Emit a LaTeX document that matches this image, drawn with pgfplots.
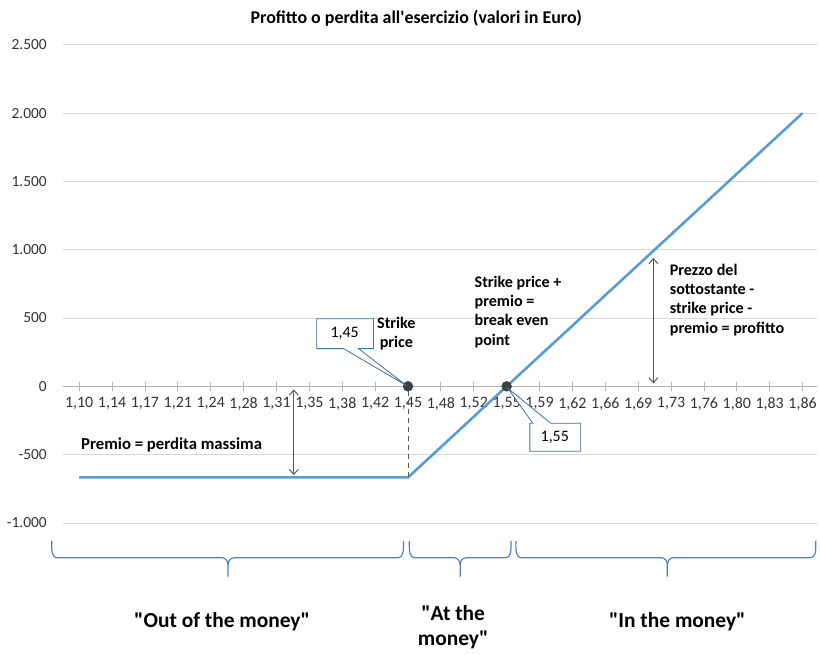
\documentclass[border=0pt]{standalone}
\usepackage{pgfplots}
\pgfplotsset{compat=1.18}
\usepackage{fontspec}
\setmainfont{Carlito}
\usetikzlibrary{arrows.meta}
\definecolor{lineblue}{RGB}{91,155,213}
\definecolor{braceblue}{RGB}{79,129,189}
\definecolor{callout}{RGB}{65,113,156}
\definecolor{darkmark}{RGB}{64,64,64}
\definecolor{arrowgray}{RGB}{89,89,89}
\begin{document}
\begin{tikzpicture}
\begin{scope}[x=1pt,y=-1pt]
\useasboundingbox (0,0) rectangle (820,657);
\end{scope}
\begin{axis}[
  at={(63pt,-525pt)}, anchor=south west,
  scale only axis, width=757pt, height=480pt,
  xmin=-0.5, xmax=22.43, ymin=-1000, ymax=2500,
  enlargelimits=false, clip=false,
  axis x line=middle, axis y line=left,
  axis line style={-},
  x axis line style={draw=gray!60, line width=0.8pt},
  y axis line style={draw=none},
  hide obscured x ticks=false, hide obscured y ticks=false,
  xtick={0,...,22},
  xticklabels={{1,10},{1,14},{1,17},{1,21},{1,24},{1,28},{1,31},{1,35},{1,38},{1,42},{1,45},{1,48},{1,52},{1,55},{1,59},{1,62},{1,66},{1,69},{1,73},{1,76},{1,80},{1,83},{1,86}},
  xtick style={draw=gray!60, line width=0.8pt},
  xtick align=center, major tick length=9pt,
  ytick={-1000,-500,0,500,1000,1500,2000,2500},
  ytick style={draw=none},
  ymajorgrids, major grid style={draw=gray!30, line width=0.8pt},
  /pgf/number format/.cd, 1000 sep={.}, assume math mode=true,
  /pgfplots/.cd,
  tick label style={text=black!80},
  xticklabel style={font=\fontsize{16}{19}\selectfont, yshift=-3pt},
  yticklabel style={font=\fontsize{15.5}{19}\selectfont, xshift=-8pt},
]
\addplot[lineblue, line width=2.6pt, line join=round] coordinates {
(0,-667) (1,-667) (2,-667) (3,-667) (4,-667) (5,-667) (6,-667) (7,-667)
(8,-667) (9,-667) (10,-667) (11,-445) (12,-222) (13,0) (14,222) (15,444)
(16,667) (17,889) (18,1111) (19,1333) (20,1556) (21,1778) (22,2000)
};
\addplot[only marks, mark=*, mark size=5pt, mark options={fill=darkmark, draw=darkmark}] coordinates {(10,0) (13,0)};
\end{axis}
\begin{scope}[x=1pt,y=-1pt]
% title
\node[font=\bfseries\fontsize{18}{21}\selectfont] at (418,18) {Profitto o perdita all\textquotesingle esercizio (valori in Euro)};
% dashed line
\draw[arrowgray, line width=1.2pt, dash pattern=on 5pt off 4pt] (410,393) -- (410,480);
% arrows
\draw[arrowgray, line width=1pt, {Straight Barb[length=5pt,width=9pt]}-{Straight Barb[length=5pt,width=9pt]}] (295,391) -- (295,477);
\draw[arrowgray, line width=1pt, {Straight Barb[length=5pt,width=9pt]}-{Straight Barb[length=5pt,width=9pt]}] (656,259) -- (656,385);
% callouts
\draw[callout, fill=white, line width=0.8pt] (318,320) -- (375,320) -- (375,350) -- (360,350) -- (408,387) -- (345,350) -- (318,350) -- cycle;
\node[font=\fontsize{16}{19}\selectfont] at (346,335) {1,45};
\draw[callout, fill=white, line width=0.8pt] (532,425) -- (535,425) -- (510,390) -- (553,425) -- (583,425) -- (583,453) -- (532,453) -- cycle;
\node[font=\fontsize{16}{19}\selectfont] at (557,439) {1,55};
% annotation texts
\begin{scope}[every node/.style={font=\bfseries\fontsize{16.2}{19.5}\selectfont}]
\node[align=center] at (398,335) {Strike\\price};
\node[align=left, anchor=west] at (473,313) {Strike price +\\premio =\\break even\\point};
\node[align=left, anchor=west] at (669,301) {Prezzo del\\sottostante -\\strike price -\\premio = profitto};
\node[anchor=west, font=\bfseries\fontsize{16.8}{20}\selectfont] at (78,447) {Premio = perdita massima};
\end{scope}
% braces
\begin{scope}[braceblue, line width=1.2pt]
\draw (52,543) to[out=-90,in=180] (58,560) -- (223,560) to[out=0,in=90] (229,567) -- (229,579);
\draw (229,567) to[out=90,in=180] (235,560) -- (399,560) to[out=0,in=-90] (405,543);
\draw (411,543) to[out=-90,in=180] (417,560) -- (456,560) to[out=0,in=90] (462,567) -- (462,579);
\draw (462,567) to[out=90,in=180] (468,560) -- (507,560) to[out=0,in=-90] (513,543);
\draw (518,543) to[out=-90,in=180] (524,560) -- (664,560) to[out=0,in=90] (670,567) -- (670,579);
\draw (670,567) to[out=90,in=180] (676,560) -- (813,560) to[out=0,in=-90] (819,543);
\end{scope}
\begin{scope}[every node/.style={font=\bfseries\fontsize{21.5}{25}\selectfont}]
\node at (223,624) {\textquotedbl Out of the money\textquotedbl};
\node[align=center] at (455,630) {\textquotedbl At the\\money\textquotedbl};
\node at (680,624) {\textquotedbl In the money\textquotedbl};
\end{scope}
\end{scope}
\end{tikzpicture}
\end{document}
